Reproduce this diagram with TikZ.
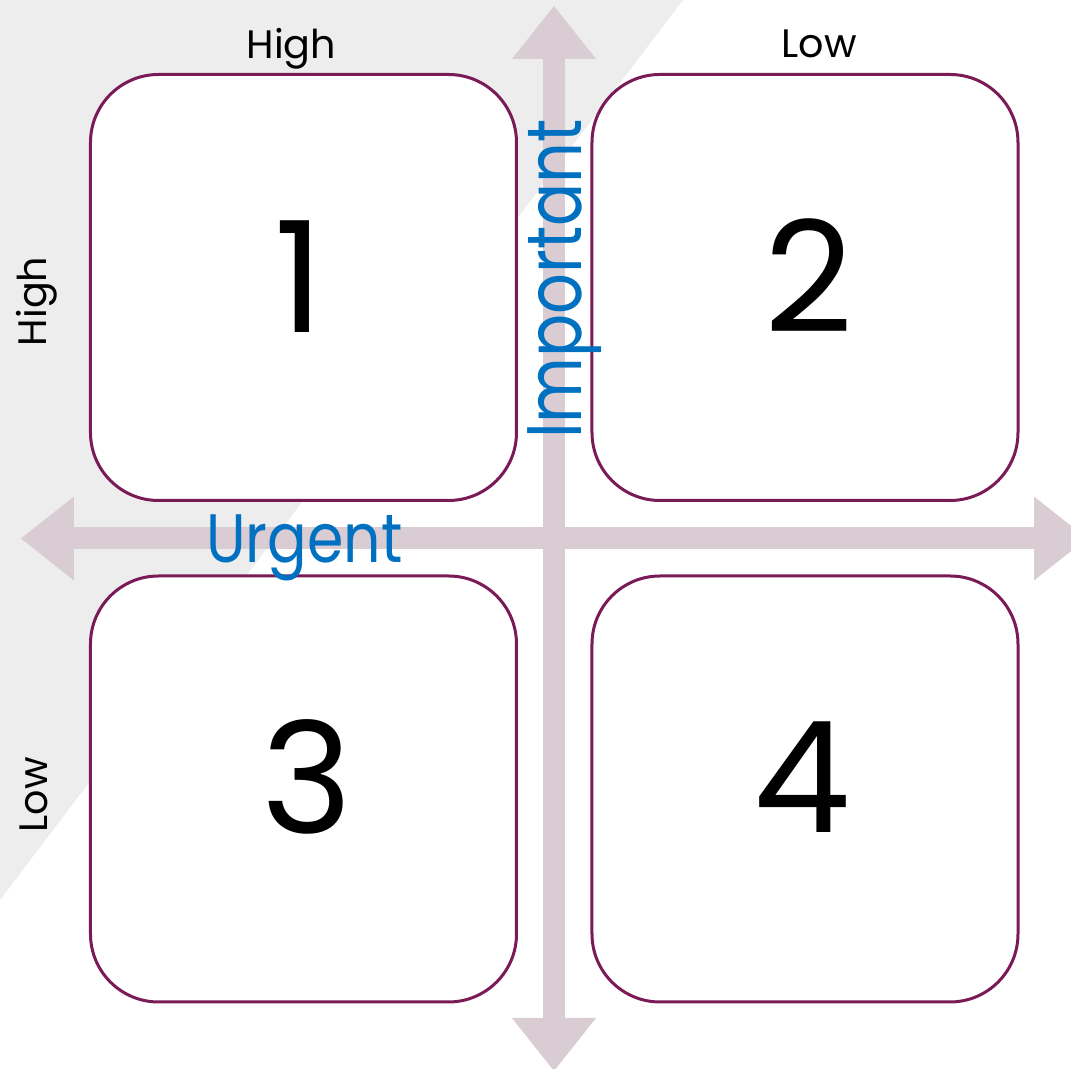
\documentclass[tikz,border=0pt]{standalone}
\usepackage{fontspec}
\setmainfont{Poppins}
\usepackage{tikz}
\usetikzlibrary{arrows.meta, positioning}
\usepackage{xcolor}
\definecolor{cShade}{HTML}{EDEDED}
\definecolor{cAxis}{HTML}{D9CCD3}
\definecolor{cFrame}{HTML}{7A1A57}
\definecolor{cBlue}{HTML}{0070C0}
\tikzset{
  quadbox/.style={
    draw=cFrame, fill=white, rounded corners=0.68cm,
    minimum width=4.26cm, minimum height=4.26cm,
    line width=0.03cm,
  },
  quadnum/.style={
    anchor=base, inner sep=0pt,
    font=\fontsize{44}{48}\selectfont, text=black,
  },
  axislabel/.style={
    anchor=base, inner sep=0pt,
    font=\fontsize{11.3}{13}\selectfont, text=black,
  },
  axisname/.style={
    anchor=base, inner sep=0pt, text=cBlue,
    font=\fontsize{#1}{24}\selectfont,
  },
  axisarw/.style={
    {Triangle[length=0.53cm, width=0.84cm, line width=0pt]}-{Triangle[length=0.53cm, width=0.84cm, line width=0pt]},
    line width=0.22cm, color=cAxis,
  },
}

\begin{document}
\begin{tikzpicture}
  \useasboundingbox (-5.54,-5.305) rectangle (5.17,5.385);

  % shaded corner
  \fill[cShade] (-5.54,5.385) -- (1.29,5.385) -- (-5.54,-3.615) -- cycle;

  % axes
  \coordinate (north) at (0,5.325);
  \coordinate (south) at (0,-5.325);
  \coordinate (west) at (-5.33,0);
  \coordinate (east) at (5.33,0);
  \draw[axisarw] (south) -- (north);
  \draw[axisarw] (west) -- (east);

  % quadrants
  \node[quadbox] (q1) at (-2.505,2.51) {};
  \node[quadbox] (q2) at (2.51,2.51) {};
  \node[quadbox] (q3) at (-2.505,-2.505) {};
  \node[quadbox] (q4) at (2.51,-2.505) {};

  \node[quadnum] (n1) at ([xshift=-0.4mm, yshift=-4.55mm]q1.center) {1};
  \node[quadnum] (n2) at ([xshift=0.4mm, yshift=-4.55mm]q2.center) {2};
  \node[quadnum] (n3) at ([xshift=0.4mm, yshift=-4.5mm]q3.center) {3};
  \node[quadnum] (n4) at ([xshift=-0.3mm, yshift=-4.4mm]q4.center) {4};

  % scale labels
  \node[axislabel] (uhigh) at (-2.625,4.795) {High};
  \node[axislabel] (ulow) at (2.65,4.805) {Low};
  \node[axislabel, rotate=90] (ihigh) at (-5.07,2.37) {High};
  \node[axislabel, rotate=90] (ilow) at (-5.06,-2.565) {Low};

  % axis names
  \node[axisname=19.5] (urgent) at (-2.495,-0.245) {\scalebox{0.855}[1]{Urgent}};
  \node[axisname=22, rotate=90] (important) at (0.28,2.595) {\scalebox{0.826}[1]{Important}};
\end{tikzpicture}
\end{document}
